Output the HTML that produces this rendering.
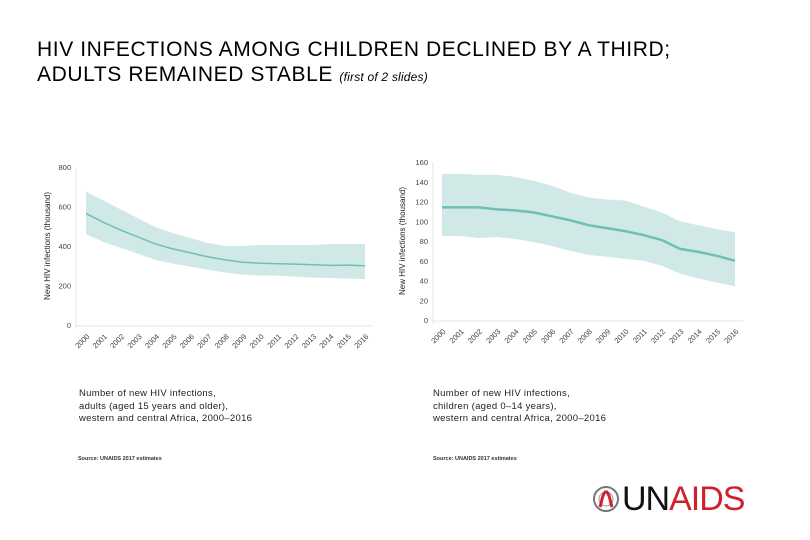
<!DOCTYPE html>
<html><head><meta charset="utf-8"><style>
body{margin:0;width:810px;height:540px;background:#fff;font-family:"Liberation Sans",sans-serif;overflow:hidden;position:relative}
.t{position:absolute;left:37px;font-size:21px;color:#000;white-space:nowrap;letter-spacing:0.6px}
.cap{position:absolute;font-size:9.5px;line-height:12.5px;color:#222;letter-spacing:0.3px}
.src{position:absolute;font-size:5.5px;color:#333;font-weight:bold}
</style></head><body>
<div class="t" style="top:38px">HIV INFECTIONS AMONG CHILDREN DECLINED BY A THIRD;</div>
<div class="t" style="top:63px">ADULTS REMAINED STABLE <i style="font-size:12px;letter-spacing:0.2px">(first of 2 slides)</i></div>
<svg id="c" width="810" height="540" style="position:absolute;left:0;top:0"></svg>
<div class="cap" style="left:79px;top:388px">Number of new HIV infections,<br>adults (aged 15 years and older),<br>western and central Africa, 2000–2016</div>
<div class="cap" style="left:433px;top:388px">Number of new HIV infections,<br>children (aged 0–14 years),<br>western and central Africa, 2000–2016</div>
<div class="src" style="left:78px;top:456px">Source: UNAIDS 2017 estimates</div>
<div class="src" style="left:433px;top:456px">Source: UNAIDS 2017 estimates</div>
<div style="position:absolute;left:592px;top:482px;height:34px;display:flex;align-items:center">
<svg width="28" height="28"><circle cx="14" cy="14" r="12" fill="none" stroke="#777" stroke-width="2"/><circle cx="14" cy="14" r="7" fill="none" stroke="#999" stroke-width="1"/><path d="M14 6 C10 10,10 16,8 22 M14 6 C18 10,18 16,20 22" stroke="#d0202e" stroke-width="3" fill="none"/></svg>
<span style="font-size:34px;letter-spacing:-1px;color:#111;margin-left:2px">UN</span><span style="font-size:34px;letter-spacing:-1px;color:#d0202e">AIDS</span>
</div>
<script>
const years=[2000,2001,2002,2003,2004,2005,2006,2007,2008,2009,2010,2011,2012,2013,2014,2015,2016];
const adultMid=[565,520,480,445,410,385,365,345,330,318,313,310,308,305,302,303,300];
const adultHi=[675,630,585,540,495,465,440,415,400,400,405,405,405,405,410,410,410];
const adultLo=[460,420,390,360,330,310,295,280,265,255,250,250,245,240,238,235,233];
const adultTicks=[0,200,400,600,800];
const childMid=[114,114,114,112,111,109,105,101,96,93,90,86,81,72,69,65,60];
const childHi=[148,148,147,147,145,141,136,129,124,122,121,115,109,100,96,92,89];
const childLo=[85,85,83,84,82,79,75,70,66,64,62,60,55,47,42,38,34];
const childTicks=[0,20,40,60,80,100,120,140,160];
const NS="http://www.w3.org/2000/svg",svg=document.getElementById('c');
function mk(t,a){const e=document.createElementNS(NS,t);for(const k in a)e.setAttribute(k,a[k]);svg.appendChild(e);return e;}
function chart(o){
 const x=i=>o.x0+(o.x1-o.x0)*(years[i]-years[0])/(years[years.length-1]-years[0]);
 const y=v=>o.y0-(o.y0-o.yT)*v/o.max;
 let ax=mk('line',{x1:o.ax,x2:o.ax,y1:o.yT,y2:o.y0+4,stroke:'#e6e6e6'});
 
 let bx=mk('line',{x1:o.ax,x2:o.x1+8,y1:o.y0+1,y2:o.y0+1,stroke:'#e6e6e6'});
 
 o.ticks.forEach(v=>{const t=mk('text',{x:o.ax-5,y:y(v)+3,'text-anchor':'end','font-size':'7.5',fill:'#444'});t.textContent=v;
  });
 years.forEach((yr,i)=>{const t=mk('text',{x:x(i)+4,y:o.y0+12,'text-anchor':'end','font-size':'7.5',fill:'#444',transform:`rotate(-45 ${x(i)+4} ${o.y0+12})`});t.textContent=yr;
  });
 let d=years.map((_,i)=>(i?'L':'M')+x(i)+' '+y(o.hi[i])).join('')+years.map((_,i)=>'L'+x(years.length-1-i)+' '+y(o.lo[years.length-1-i])).join('')+'Z';
 let b=mk('path',{d,fill:'#d0e9e6'});
 let l=mk('path',{d:years.map((_,i)=>(i?'L':'M')+x(i)+' '+y(o.mid[i])).join(''),fill:'none',stroke:'#6fbfb6','stroke-width':o.sw});
 
 let tt=mk('text',{x:0,y:0,'font-size':'8',fill:'#222',transform:`translate(${o.tx} ${(o.y0+o.yT)/2}) rotate(-90)`,'text-anchor':'middle'});
 tt.textContent='New HIV infections (thousand)';
}
chart({p:'adults',x0:86,x1:365,ax:76,y0:325,yT:167,max:800,ticks:adultTicks,mid:adultMid,hi:adultHi,lo:adultLo,tx:50,sw:1.5});
chart({p:'children',x0:442,x1:735,ax:433,y0:320,yT:162,max:160,ticks:childTicks,mid:childMid,hi:childHi,lo:childLo,tx:405,sw:2.5});
</script>
</body></html>
